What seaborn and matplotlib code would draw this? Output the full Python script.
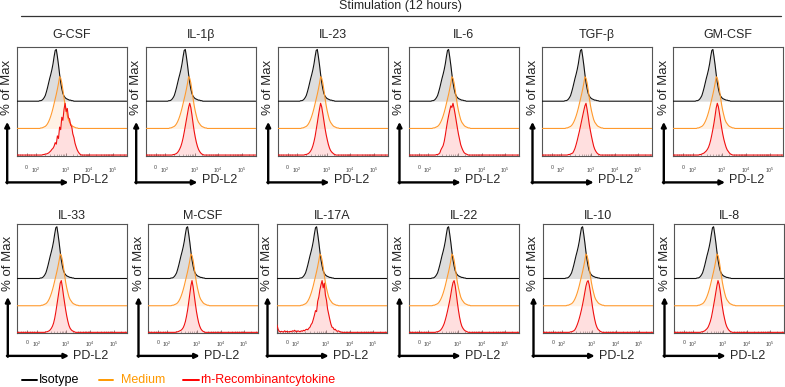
import numpy as np
import pandas as pd
import matplotlib
matplotlib.use("Agg")
import matplotlib.pyplot as plt
import seaborn as sns
from matplotlib.lines import Line2D

# ---------------- data ----------------
BIN_START = 0.20          # histogram bins (fraction of the PD-L2 axis), 0.20 .. 0.60
BIN_STEP = 0.01
N_BINS = 41

# shared controls (% of max per bin)
ISOTYPE = [0, 1, 1, 2, 4, 7, 11, 18, 26, 35, 44, 52, 61, 72, 86, 98, 100, 86, 70, 52, 36,
           24, 15, 10, 7, 5, 4, 3, 2, 2, 1, 1]
MEDIUM = [0, 0, 1, 1, 2, 3, 4, 6, 9, 13, 18, 24, 31, 39, 48, 57, 66, 76, 87, 100, 97,
          88, 74, 59, 45, 34, 25, 17, 12, 9, 6, 4, 3, 2, 1, 1]

ROW1 = ["G-CSF", "IL-1β", "IL-23", "IL-6", "TGF-β", "GM-CSF"]
ROW2 = ["IL-33", "M-CSF", "IL-17A", "IL-22", "IL-10", "IL-8"]

RH_G_CSF = [0, 0, 0, 0, 1, 1, 2, 2, 3, 4, 6, 8, 11, 13, 17, 24, 21, 37, 32, 54, 49, 73, 67, 88,
            100, 84, 90, 72, 70, 58, 55, 41, 34, 23, 16, 10, 6, 3, 1, 0, 0]
RH_IL_1B = [0, 0, 0, 0, 0, 1, 1, 2, 3, 5, 8, 12, 17, 24, 33, 44, 56, 68, 80, 92, 100, 92, 78, 62,
            47, 35, 25, 17, 11, 7, 4, 2, 1]
RH_IL_23 = [0, 0, 0, 0, 0, 1, 1, 2, 3, 5, 8, 12, 18, 26, 36, 49, 62, 76, 89, 100, 93, 80, 66, 52,
            40, 30, 21, 14, 9, 6, 4, 2, 1]
RH_IL_6 = [0, 0, 0, 0, 0, 1, 1, 2, 4, 10, 14, 18, 26, 38, 52, 65, 76, 86, 95, 92, 100, 90, 78, 65,
           52, 40, 30, 20, 14, 9, 5, 3, 2, 1]
RH_TGF_B = [0, 0, 0, 0, 1, 1, 2, 3, 4, 8, 13, 20, 28, 37, 46, 56, 66, 76, 86, 95, 100, 88, 74, 59,
            47, 36, 26, 17, 11, 7, 4, 2, 1]
RH_GM_CSF = [0, 0, 0, 0, 1, 1, 2, 3, 4, 6, 8, 11, 15, 21, 29, 39, 50, 62, 76, 91, 100, 93, 80, 66,
             52, 40, 30, 22, 15, 10, 7, 4, 2, 1]
RH_IL_33 = [0, 0, 0, 0, 0, 0, 1, 1, 2, 3, 5, 8, 12, 18, 27, 39, 53, 67, 81, 95, 100, 87, 71, 57,
            43, 31, 21, 13, 8, 5, 3, 2, 1]
RH_M_CSF = [0, 0, 0, 0, 0, 0, 1, 1, 2, 3, 4, 6, 9, 14, 21, 31, 43, 58, 74, 90, 100, 88, 72, 56,
            41, 29, 19, 12, 7, 4, 2, 1]
RH_IL_17A = [2, 1, 3, 2, 4, 3, 5, 6, 5, 8, 10, 15, 18, 25, 33, 42, 40, 60, 68, 82, 92, 100, 86, 95,
             72, 62, 45, 35, 25, 16, 10, 9, 5, 6, 3, 2, 3, 1, 1, 0, 0]
RH_IL_17A_LOW = [14, 6, 2, 1, 2, 1, 1, 3, 1, 2, 1, 1, 2, 1, 3, 2, 4, 2, 1, 3]   # bins 0.00 .. 0.19
RH_IL_22 = [0, 0, 0, 0, 0, 1, 1, 2, 3, 5, 8, 12, 17, 24, 32, 41, 51, 61, 73, 86, 96, 100, 90, 74,
            57, 42, 29, 19, 12, 8, 5, 3, 2, 1]
RH_IL_10 = [0, 0, 0, 0, 0, 1, 1, 2, 3, 5, 9, 14, 20, 27, 35, 44, 54, 65, 77, 89, 97, 100, 92, 79,
            64, 49, 36, 25, 16, 10, 6, 4, 2, 1]
RH_IL_8 = [0, 0, 0, 0, 0, 1, 1, 2, 3, 5, 7, 10, 15, 21, 29, 40, 52, 64, 77, 90, 100, 93, 80, 64,
           49, 36, 26, 17, 11, 7, 4, 2, 1]

RED = {"G-CSF": RH_G_CSF, "IL-1β": RH_IL_1B, "IL-23": RH_IL_23, "IL-6": RH_IL_6,
       "TGF-β": RH_TGF_B, "GM-CSF": RH_GM_CSF, "IL-33": RH_IL_33, "M-CSF": RH_M_CSF,
       "IL-17A": RH_IL_17A, "IL-22": RH_IL_22, "IL-10": RH_IL_10, "IL-8": RH_IL_8}
LOW_TAIL = {"IL-17A": RH_IL_17A_LOW}

TICK_LABELS = ["0", r"$10^2$", r"$10^3$", r"$10^4$", r"$10^5$"]
LEGEND_LABELS = ["Isotype", "Medium", "rh-Recombinantcytokine"]

# ---------------- style ----------------
sns.set_theme(style="white")
plt.rcParams["font.family"] = ["Liberation Sans", "DejaVu Sans"]
plt.rcParams["mathtext.fontset"] = "custom"
plt.rcParams["mathtext.rm"] = "Liberation Sans"

COL_LINE = {"Isotype": "#111111", "Medium": "#FF9A2E", "rh": "#F01010"}
COL_FILL = {"Isotype": ("#b5b5b5", 0.45), "Medium": ("#ffb060", 0.16), "rh": ("#ff7070", 0.22)}
OFFSET = {"Isotype": 0.5, "Medium": 0.25, "rh": 0.006}
PEAK_H = 0.475
TICK_POS = [0.09, 0.175, 0.445, 0.66, 0.875]

W, H = 785, 387
fig = plt.figure(figsize=(W / 100, H / 100), dpi=100)


def fx(px):
    return px / W


def fy(py):
    return 1 - py / H


PANEL_W, PANEL_H = 110, 109
ROW_TOP = [46.7, 224.0]
COL_LEFT = [[16.7, 145.7, 277.7, 409, 542.0, 673.3], [17.3, 148, 277, 409, 543, 674]]
ROW_CFG = [dict(title_pad=6.5, arrow_y=-0.245, tip=0.31, ylab=0.63, lab_y=-0.225, tpad=7.0),
           dict(title_pad=3.5, arrow_y=-0.21, tip=0.33, ylab=0.64, lab_y=-0.215, tpad=5.0)]

# minor ticks between decades (log spacing inside each decade)
minor = []
for a, b in zip(TICK_POS[1:-1], TICK_POS[2:]):
    for k in range(2, 10):
        minor.append(a + np.log10(k) * (b - a))
for k in range(2, 10):
    minor.append(TICK_POS[-1] + np.log10(k) * (TICK_POS[-1] - TICK_POS[-2]))
minor += list(np.linspace(TICK_POS[0] - 0.08, TICK_POS[1], 9)[:-1])
minor = [m for m in minor if 0 < m < 1]

x_main = BIN_START + BIN_STEP * np.arange(N_BINS)

for r, names in enumerate([ROW1, ROW2]):
    cfg = ROW_CFG[r]
    for c, name in enumerate(names):
        left = COL_LEFT[r][c]
        top = ROW_TOP[r]
        ax = fig.add_axes([fx(left), fy(top + PANEL_H), PANEL_W / W, PANEL_H / H])
        recs = []
        for series, vals in [("Isotype", ISOTYPE), ("Medium", MEDIUM), ("rh", RED[name])]:
            v = np.zeros(N_BINS)
            v[:len(vals)] = vals[:N_BINS]
            if series == "rh" and name in LOW_TAIL:
                tail = LOW_TAIL[name]
                xs = list(BIN_STEP * np.arange(len(tail))) + list(x_main) + [1.0]
                ys = list(tail) + list(v) + [0]
            else:
                xs = [0.0] + list(x_main) + [1.0]
                ys = [0] + list(v) + [0]
            ys = OFFSET[series] + PEAK_H * np.array(ys, dtype=float) / 100
            for xx, yy in zip(xs, ys):
                recs.append((series, xx, yy))
            fc, fa = COL_FILL[series]
            ax.fill_between(xs, OFFSET[series], ys, color=fc, alpha=fa, lw=0, zorder=1)
        df = pd.DataFrame(recs, columns=["series", "x", "y"])
        sns.lineplot(data=df, x="x", y="y", hue="series", hue_order=["Isotype", "Medium", "rh"],
                     palette=COL_LINE, estimator=None, sort=False, lw=0.8, legend=False,
                     ax=ax, zorder=3)
        ax.set_xlim(0, 1)
        ax.set_ylim(0, 1)
        ax.set_xlabel("")
        ax.set_ylabel("")
        ax.set_yticks([])
        ax.set_xticks(TICK_POS)
        ax.set_xticklabels(TICK_LABELS, fontsize=3.8, color="#444444")
        ax.set_xticks(minor, minor=True)
        ax.tick_params(axis="x", which="major", direction="in", length=2.5, width=0.5,
                       color="#555555", pad=cfg["tpad"], bottom=True)
        ax.tick_params(axis="x", which="minor", direction="in", length=1.3, width=0.4,
                       color="#777777", bottom=True)
        for sp in ax.spines.values():
            sp.set_visible(True)
            sp.set_color("#555555")
            sp.set_linewidth(0.8)
        ax.set_title(name, fontsize=9, pad=cfg["title_pad"])

        ax_x = -9.5 / PANEL_W
        ay = cfg["arrow_y"]
        ax.annotate("", xy=(ax_x, cfg["tip"]), xytext=(ax_x, ay - 0.008), xycoords="axes fraction",
                    arrowprops=dict(arrowstyle="-|>", lw=1.7, color="black", mutation_scale=7,
                                    shrinkA=0, shrinkB=0), annotation_clip=False)
        ax.annotate("", xy=(0.47, ay), xytext=(ax_x - 0.008, ay), xycoords="axes fraction",
                    arrowprops=dict(arrowstyle="-|>", lw=1.7, color="black", mutation_scale=7,
                                    shrinkA=0, shrinkB=0), annotation_clip=False)
        ax.text(0.51, cfg["lab_y"], "PD-L2", transform=ax.transAxes, ha="left", va="center",
                fontsize=9, clip_on=False)
        ax.text(ax_x, cfg["ylab"], "% of Max", transform=ax.transAxes, rotation=90,
                ha="center", va="center", fontsize=9.5, clip_on=False)

# header
fig.text(fx(400), fy(5.5), "Stimulation (12 hours)", ha="center", va="center", fontsize=9)
fig.add_artist(Line2D([fx(21), fx(781)], [fy(15.5), fy(15.5)], color="#333333", lw=0.9))

# legend
leg_y = fy(380)
leg = [(21.7, 37, 38.5, "#000000"), (99, 113, 121, "#FF9900"), (183, 199, 200, "#FF0000")]
for (x0, x1, tx, col), lab in zip(leg, LEGEND_LABELS):
    fig.add_artist(Line2D([fx(x0), fx(x1)], [leg_y, leg_y], color=col, lw=1.4))
    fig.text(fx(tx), leg_y, lab, ha="left", va="center", fontsize=9,
             color=("#000000" if lab == "Isotype" else col))

fig.savefig("out.png", dpi=100)
